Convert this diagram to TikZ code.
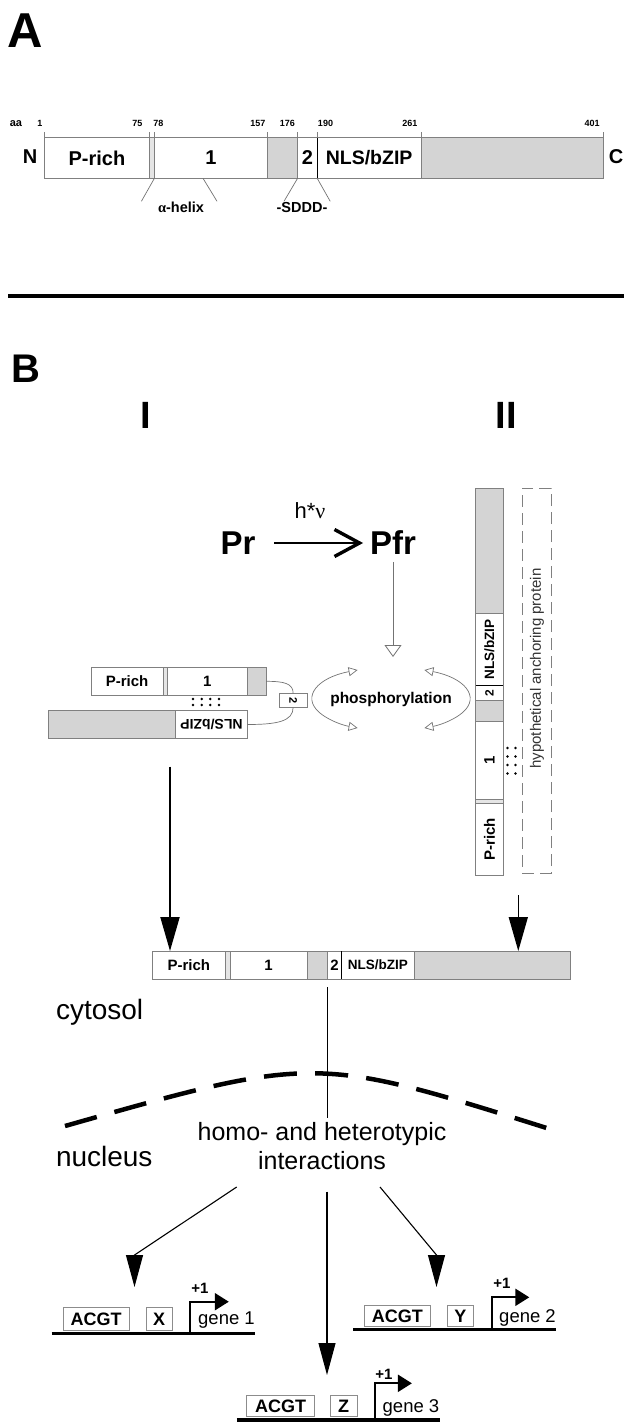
\documentclass[tikz,border=0pt]{standalone}
\usepackage{fontspec}
\setmainfont{Liberation Sans}
\newfontfamily\grk{Liberation Serif}
\usetikzlibrary{arrows.meta,calc}
\newcommand\fsz[1]{\fontsize{#1}{#1}\selectfont}
\begin{document}
\begin{tikzpicture}[x=1pt,y=-1pt,
  seg/.style={draw=black!50, line width=0.7pt, fill=white, inner sep=0pt, outer sep=0pt, font=\bfseries\fsz{15}},
  gseg/.style={seg, fill=black!17},
  stseg/.style={seg, fill=black!10},
  txt/.style={inner sep=0pt, outer sep=0pt},
  btxt/.style={txt, font=\bfseries\fsz{#1}},
  rtxt/.style={txt, font=\fsz{#1}},
  tickln/.style={draw=black!50, line width=0.5pt},
  conn/.style={draw=black!55, line width=0.7pt},
  blk/.style={draw=black, line width=1.3pt},
  openarr/.style={draw=black!55, line width=0.7pt, {Triangle[open,length=9pt,width=9pt]}-{Triangle[open,length=9pt,width=9pt]}},
  dna/.style={line width=3.5pt},
  prom/.style={line width=2.2pt, -{Triangle[length=14pt,width=17pt]}},
  gbox/.style={draw=black!45, line width=0.7pt, fill=white, inner sep=0pt, font=\bfseries\fsz{18}},
  thinarr/.style={line width=1.1pt, -{Triangle[length=32pt,width=17pt]}},
]
\useasboundingbox (0,0) rectangle (624,1423);

% ---------------- Panel A ----------------
\node[btxt=49] (A) at (25,31) {A};
\node[btxt=11] (aa) at (16,123.5) {aa};
\node[btxt=9] (n1) at (39.8,123.5) {1};
\node[btxt=9] (n75) at (137.3,123.5) {75};
\node[btxt=9] (n78) at (158.4,123.5) {78};
\node[btxt=9] (n157) at (257.9,123.5) {157};
\node[btxt=9] (n176) at (287.3,123.5) {176};
\node[btxt=9] (n190) at (325.5,123.5) {190};
\node[btxt=9] (n261) at (409.9,123.5) {261};
\node[btxt=9] (n401) at (592.1,123.5) {401};

\node[seg, minimum width=104.6pt, minimum height=40.6pt, font=\bfseries\fsz{20}] (PrA) at (96.9,158) {P-rich};
\node[stseg, minimum width=5.2pt, minimum height=40.6pt] (stA) at (151.8,158) {};
\node[seg, minimum width=113pt, minimum height=40.6pt, font=\bfseries\fsz{20}] (s1A) at (210.9,158) {1};
\node[gseg, minimum width=30.2pt, minimum height=40.6pt] (g1A) at (282.5,158) {};
\node[seg, minimum width=19.6pt, minimum height=40.6pt, font=\bfseries\fsz{20}] (s2A) at (307.4,158) {2};
\node[seg, minimum width=103.8pt, minimum height=40.6pt, font=\bfseries\fsz{19.5}] (nlsA) at (369.1,158) {NLS/bZIP};
\node[gseg, minimum width=182.6pt, minimum height=40.6pt] (gCA) at (512.3,158) {};
\draw[blk] (s2A.north east) -- (s2A.south east);
\foreach \n in {PrA,stA,s1A,g1A,s2A,nlsA}
  \draw[tickln] (\n.north west) -- ++(0,-5.5);
\draw[tickln] (stA.north east) -- ++(0,-5.5);
\draw[tickln] (gCA.north west) -- ++(0,-5.5);
\draw[tickln] (gCA.north east) -- ++(0,-5.5);

\node[btxt=20] (N) at (30,157) {N};
\node[btxt=20] (C) at (616,157) {C};

\draw[conn] (stA.south east) -- ++(-13,23);
\draw[conn] ($(s1A.south)+(-7.9,0)$) -- ++(14,23);
\draw[conn] (g1A.south east) -- ++(-13.6,23);
\draw[conn] (s2A.south east) -- ++(13,23);
\node[btxt=14.5] (ahelix) at (181,207.5) {{\grk α}-helix};
\node[btxt=14.5] (sddd) at (302,208) {-SDDD-};

\coordinate (sepL) at (8,296);
\coordinate (sepR) at (624,296);
\draw[line width=3.2pt] (sepL) -- (sepR);

% ---------------- Panel B ----------------
\node[btxt=40] (B) at (26,369) {B};
\node[btxt=38] (I) at (146,415) {I};
\node[btxt=38] (II) at (506,415) {II};
\node[rtxt=22] (hv) at (310,511) {h*{\grk ν}};
\node[btxt=33] (Pr) at (238,543) {Pr};
\node[btxt=33] (Pfr) at (393,543) {Pfr};
\draw[line width=2.6pt, -{Straight Barb[length=25pt,width=27pt,line width=3.4pt]}, shorten <=19pt, shorten >=7pt] (Pr) -- (Pfr);

\node[btxt=15.5] (phos) at (391,699) {phosphorylation};
\coordinate (phtop) at (391.5,657);
\draw[draw=black!55, line width=0.8pt, -{Triangle[open,length=12pt,width=17pt]}, shorten <=7pt] (Pfr.south) -- (Pfr.south |- phtop);
\draw[openarr] ($(phos)+(-33.4,-29)$) arc[start angle=245, end angle=115, x radius=79, y radius=32];
\draw[openarr] ($(phos)+(33.4,-29)$) arc[start angle=295, end angle=425, x radius=79, y radius=32];

% Left protein (I)
\node[seg, minimum width=72.3pt, minimum height=28pt] (PrL) at (127.15,681.3) {P-rich};
\node[stseg, minimum width=4pt, minimum height=28pt] (stL) at (165.3,681.3) {};
\node[seg, minimum width=80pt, minimum height=28pt] (s1L) at (207.3,681.3) {1};
\node[gseg, minimum width=18.7pt, minimum height=28pt] (gL) at (256.65,681.3) {};
\node[gseg, minimum width=127.4pt, minimum height=27.6pt] (gCL) at (112,724.5) {};
\node[seg, minimum width=71.6pt, minimum height=27.6pt, font=\bfseries\fsz{14}] (nlsL) at (211.5,724.5) {\rotatebox{180}{NLS/bZIP}};
\node[seg, minimum width=28.3pt, minimum height=14pt, font=\bfseries\fsz{11}] (s2L) at (293.15,700.3) {\rotatebox{-90}{2}};
\foreach \x in {193,201.7,210.3,219}
  \foreach \y in {699,705}
    \fill (\x,\y) circle[radius=1.4pt];
\draw[conn] (gL.east) .. controls +(18,0) and +(0,-10) .. (s2L.north);
\draw[conn] (s2L.south) .. controls +(0,14) and +(30,0) .. (nlsL.east);

% Vertical protein (II)
\node[gseg, minimum width=27.9pt, minimum height=125.3pt] (gCV) at (489.45,550.65) {};
\node[seg, minimum width=27.9pt, minimum height=72.4pt, font=\bfseries\fsz{13.5}] (nlsV) at (489.45,649.5) {\rotatebox{90}{NLS/bZIP}};
\node[seg, minimum width=27.9pt, minimum height=14.3pt, font=\bfseries\fsz{12}] (s2V) at (489.45,692.85) {\rotatebox{90}{2}};
\node[gseg, minimum width=27.9pt, minimum height=21pt] (gV) at (489.45,710.5) {};
\node[seg, minimum width=27.9pt, minimum height=78.3pt] (s1V) at (489.45,760.15) {\rotatebox{90}{1}};
\node[stseg, minimum width=27.9pt, minimum height=4pt] (stV) at (489.45,801.3) {};
\node[seg, minimum width=27.9pt, minimum height=71.7pt] (PrV) at (489.45,839.15) {\rotatebox{90}{P-rich}};
\draw[blk] (nlsV.south west) -- (nlsV.south east);
\foreach \x in {507.5,515.5}
  \foreach \y in {748,756.5,765,773.5}
    \fill (\x,\y) circle[radius=1.4pt];
\node[draw=black!50, dash pattern=on 12pt off 6pt, line width=0.8pt, minimum width=29pt, minimum height=385pt, inner sep=0pt] (hyp) at (536.5,680.5) {};
\node[rtxt=15, text=black!80] (hyplbl) at (537,668.5) {\rotatebox{90}{hypothetical anchoring protein}};

% Middle protein
\node[seg, minimum width=72.3pt, minimum height=28pt] (PrM) at (188.85,965) {P-rich};
\node[stseg, minimum width=5pt, minimum height=28pt] (stM) at (227.5,965) {};
\node[seg, minimum width=77.3pt, minimum height=28pt] (s1M) at (268.65,965) {1};
\node[gseg, minimum width=20pt, minimum height=28pt] (gM) at (317.3,965) {};
\node[seg, minimum width=14.4pt, minimum height=28pt] (s2M) at (334.5,965) {2};
\node[seg, minimum width=72.3pt, minimum height=28pt, font=\bfseries\fsz{13.5}] (nlsM) at (377.85,965) {NLS/bZIP};
\node[gseg, minimum width=156pt, minimum height=28pt] (gCM) at (492,965) {};
\draw[blk] (s2M.north east) -- (s2M.south east);

\coordinate (aI) at (170,766.7);
\draw[line width=2pt, -{Triangle[length=34pt,width=19pt]}] (aI) -- (aI |- PrM.north);
\coordinate (aII) at (518.3,895);
\draw[line width=1.5pt, -{Triangle[length=34pt,width=19pt]}] (aII) -- (aII |- gCM.north);

\coordinate (mlS) at ($(s2M.south west)+(0,8)$);
\coordinate (mlE) at ($(s2M.south west)+(0,139)$);
\draw[line width=1.1pt] (mlS) -- (mlE);

\node[rtxt=28, anchor=west] (cyt) at (56,1012) {cytosol};
\node[rtxt=28, anchor=west] (nuc) at (56,1156) {nucleus};

\coordinate (arcL) at (65,1126);
\coordinate (arcC) at (315,1055);
\coordinate (arcR) at (553,1130);
\draw[line width=4.5pt, dash pattern=on 33pt off 18.3pt] (arcL) .. controls (arcC) .. (arcR);

\node[txt, font=\fontsize{25}{29}\selectfont, align=center] (homo) at (322,1146) {homo- and heterotypic\\interactions};

% arrows to genes
\coordinate (g1s) at (236.7,1187); \coordinate (g1b) at (134.5,1255); \coordinate (g1t) at (134.5,1287);
\draw[thinarr] (g1s) -- (g1b) -- (g1t);
\coordinate (g3s) at (327,1191.7); \coordinate (g3t) at (327,1375);
\draw[thinarr] (g3s) -- (g3t);
\coordinate (g2s) at (380,1187); \coordinate (g2b) at (436.5,1255); \coordinate (g2t) at (436.5,1287);
\draw[thinarr] (g2s) -- (g2b) -- (g2t);

% gene 1
\coordinate (d1a) at (51.7,1333.3); \coordinate (d1b) at (254.7,1333.3);
\draw[dna] (d1a) -- (d1b);
\node[gbox, minimum width=66.4pt, minimum height=23.7pt] (acgt1) at (96.1,1318.85) {ACGT};
\node[gbox, minimum width=26.3pt, minimum height=23.7pt] (X) at (159.15,1318.85) {X};
\coordinate (p1a) at (190.2,1333.3);
\draw[prom] (p1a) -- ++(0,-31.6) -- ++(38.6,0);
\node[btxt=15] (plus1) at (200,1288.3) {+1};
\node[rtxt=18.5] (gene1) at (226.5,1320) {gene 1};

% gene 2
\coordinate (d2a) at (353.4,1329.3); \coordinate (d2b) at (555.9,1329.3);
\draw[dna] (d2a) -- (d2b);
\node[gbox, minimum width=66.6pt, minimum height=21.7pt] (acgt2) at (397.3,1315.85) {ACGT};
\node[gbox, minimum width=26.2pt, minimum height=21.7pt] (Y) at (460.4,1315.85) {Y};
\coordinate (p2a) at (491.8,1329.3);
\draw[prom] (p2a) -- ++(0,-32) -- ++(37.5,0);
\node[btxt=15] (plus2) at (502,1283.3) {+1};
\node[rtxt=18.5] (gene2) at (527.5,1318.3) {gene 2};

% gene 3
\coordinate (d3a) at (236.8,1420); \coordinate (d3b) at (439.7,1420);
\draw[dna] (d3a) -- (d3b);
\node[gbox, minimum width=67.7pt, minimum height=21.7pt] (acgt3) at (280.55,1405.85) {ACGT};
\node[gbox, minimum width=26.7pt, minimum height=21.7pt] (Z) at (343.65,1405.85) {Z};
\coordinate (p3a) at (375.2,1420);
\draw[prom] (p3a) -- ++(0,-36.7) -- ++(36.7,0);
\node[btxt=15] (plus3) at (384,1374) {+1};
\node[rtxt=18.5] (gene3) at (411,1408.3) {gene 3};
\end{tikzpicture}
\end{document}
